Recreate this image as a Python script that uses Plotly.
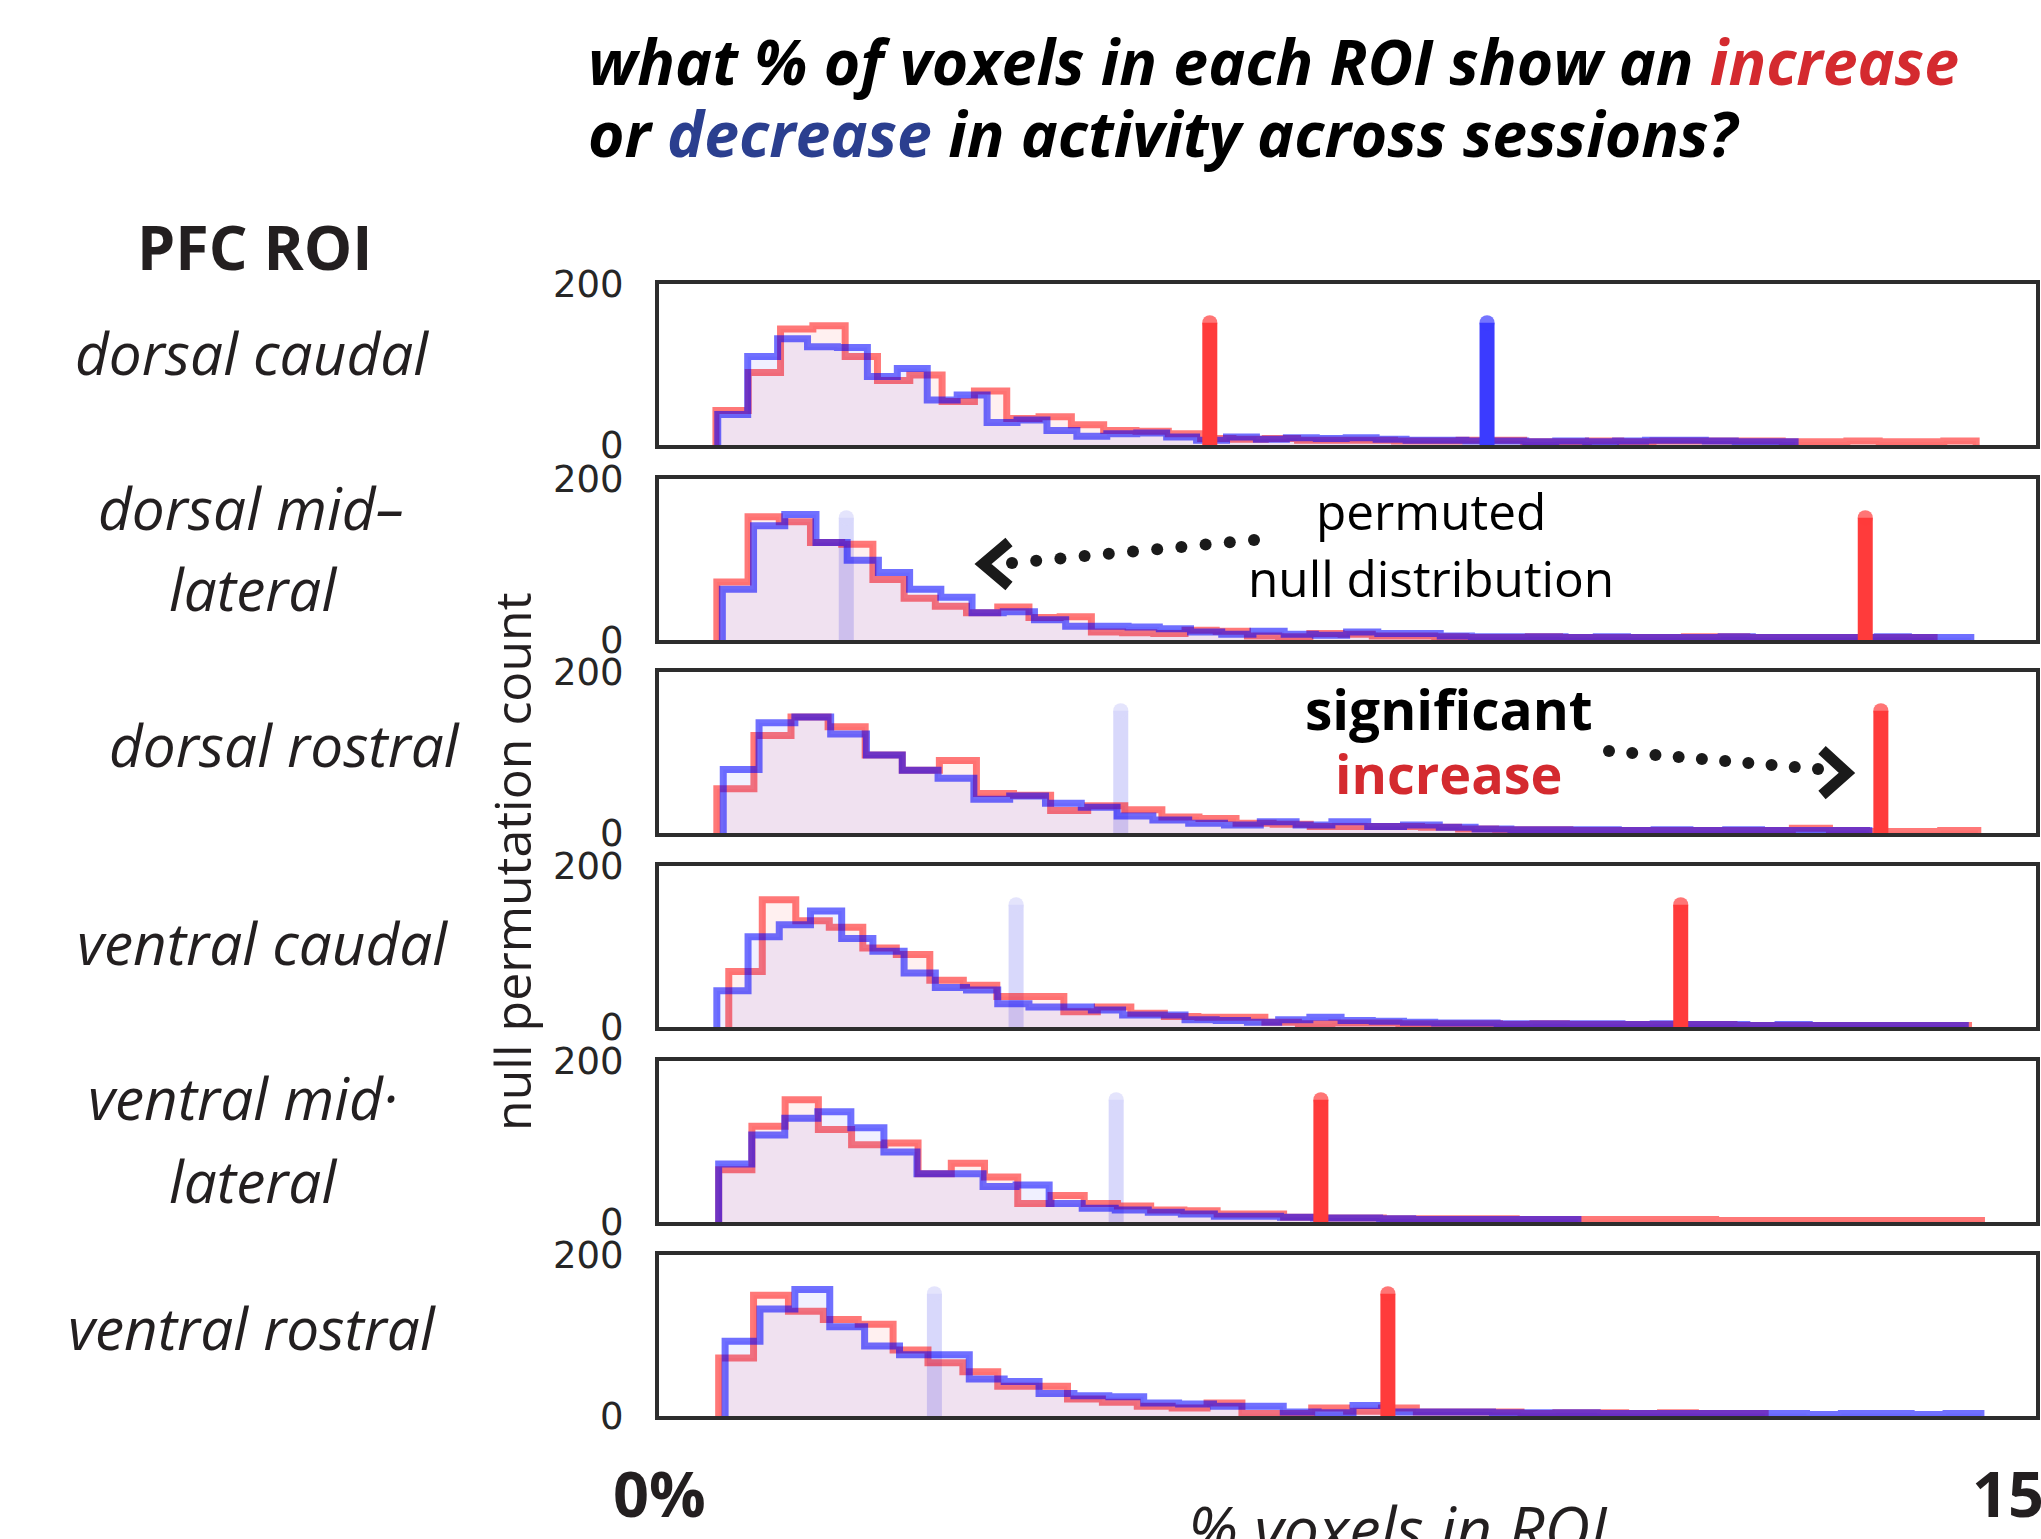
import numpy as np
import plotly.graph_objects as go

W, H = 2041, 1539

# ---------------- data ----------------
rois = ["dorsal caudal", "dorsal mid-lateral", "dorsal rostral",
        "ventral caudal", "ventral mid-lateral", "ventral rostral"]

# observed % of voxels showing an increase / decrease
observed_increase = [6.00, 13.14, 13.31, 11.13, 7.21, 7.94]
observed_decrease = [9.02, 2.04, 5.03, 3.89, 4.98, 3.00]
decrease_significant = [True, False, False, False, False, False]

# permuted null distributions (histograms): first bin edge (%), bin width (%), counts
null_inc_start = [0.62, 0.63, 0.63, 0.76, 0.65, 0.65]
null_inc_width = [0.352, 0.34, 0.404, 0.365, 0.362, 0.38]
null_inc_counts = [
    [43, 90, 144, 148, 110, 80, 87, 54, 67, 33, 35, 25, 18, 17, 14, 8, 7, 8, 6,
     6, 6, 5, 5, 6, 6, 4, 4, 5, 4, 5, 5, 5, 5, 4, 4, 5, 4, 4, 5],
    [72, 153, 147, 121, 119, 75, 52, 42, 34, 41, 28, 29, 10, 9, 8, 12, 11, 5, 4,
     8, 7, 5, 5, 4, 3, 3, 4, 3, 3, 3, 3, 4, 4, 3, 3, 3, 3, 3, 3],
    [55, 121, 144, 132, 97, 78, 90, 49, 47, 28, 34, 29, 20, 18, 12, 11,
     8, 8, 8, 7, 5, 4, 4, 3, 3, 3, 3, 3, 3, 6, 3, 2, 2, 3],
    [69, 158, 132, 124, 98, 90, 58, 52, 38, 38, 19, 25, 17, 13, 12, 12, 6, 4,
     5, 5, 4, 4, 4, 3, 4, 3, 3, 3, 3, 3, 2, 2, 2, 2, 2, 2, 2],
    [65, 119, 152, 115, 96, 98, 60, 73, 56, 23, 33, 23, 20, 15, 14, 10, 10, 6,
     5, 5, 4, 4, 4, 4, 3, 3, 3, 3, 3, 3, 2, 2, 2, 2, 2, 2, 2, 2],
    [72, 150, 130, 120, 114, 82, 66, 55, 37, 37, 21, 17, 12, 10, 16, 3, 3, 10, 6, 10, 5, 5, 5, 3,
     4, 4, 3, 4, 3, 3],
]
null_dec_start = [0.64, 0.69, 0.70, 0.63, 0.65, 0.72]
null_dec_width = [0.326, 0.34, 0.39, 0.34, 0.36, 0.38]
null_dec_counts = [
    [38, 110, 132, 122, 121, 85, 95, 56, 62, 28, 31, 18, 11, 14, 15, 10, 6, 10, 7, 9,
     8, 9, 7, 6, 6, 5, 5, 4, 5, 4, 5, 6, 6, 5, 4, 4],
    [63, 142, 156, 121, 99, 84, 63, 53, 34, 35, 25, 17, 17, 16, 14, 10, 7, 11, 7,
     6, 10, 8, 8, 5, 4, 4, 4, 3, 4, 3, 3, 3, 4, 3, 3, 3, 3, 4, 3, 3],
    [79, 137, 144, 123, 97, 78, 68, 42, 46, 37, 32, 21, 16, 12, 10, 14, 10, 14, 8, 10,
     7, 5, 4, 4, 4, 3, 4, 3, 4, 3, 3, 3],
    [45, 112, 127, 144, 110, 94, 67, 49, 46, 29, 25, 25, 21, 15, 15, 9, 8, 6, 9, 12,
     8, 7, 6, 5, 5, 4, 4, 4, 4, 3, 4, 3, 3, 2, 3, 2, 2, 2, 2, 2],
    [72, 108, 129, 137, 117, 87, 60, 60, 44, 46, 23, 17, 15, 12, 10, 7, 7, 6,
     5, 5, 4, 3, 3, 3, 3, 3],
    [93, 133, 157, 111, 87, 76, 76, 46, 43, 28, 25, 24, 16, 15, 12, 12, 5, 4, 13, 5, 5,
     5, 4, 4, 4, 3, 3, 3, 3, 3, 3, 2, 3, 3, 2, 3],
]

x_range = [0, 15]
y_range = [0, 200]
y_ticks = [0, 200]
x_tick_labels = ["0%", "15%"]
observed_line_height = 152

# ---------------- layout geometry (pixels) ----------------
PANEL_LEFT, PANEL_RIGHT = 659, 2036
PANEL_TOPS = [284, 479, 672, 866, 1061, 1255]
PANEL_H = 161

def px(X):
    return X / W

def py(Y):
    return 1 - Y / H

RED_LINE = "rgba(255,0,0,0.53)"
BLUE_LINE = "rgba(0,0,255,0.56)"
RED_FILL = "rgba(255,0,0,0.06)"
BLUE_FILL = "rgba(0,0,255,0.06)"
SIG_RED = "#ff3b3b"
SIG_BLUE = "#3b3bff"
FAINT_BLUE = "#d8d8fb"
FRAME = "#2d2d2d"

fig = go.Figure()


def step_xy(start, width, counts):
    counts = np.asarray(counts, dtype=float)
    edges = start + width * np.arange(len(counts) + 1)
    x = np.concatenate([[edges[0]], edges[:-1], [edges[-1]], [edges[-1]]])
    y = np.concatenate([[0], counts, [counts[-1]], [0]])
    return x, y


def vline(xv, color, xa, ya, width=15):
    return go.Scatter(x=[xv, xv], y=[0, observed_line_height], mode="lines+markers",
                      line=dict(color=color, width=width),
                      marker=dict(size=[0, width], color=color, line=dict(width=0)),
                      xaxis=xa, yaxis=ya, showlegend=False, hoverinfo="skip")


for i in range(len(rois)):
    xa = "x" if i == 0 else f"x{i+1}"
    ya = "y" if i == 0 else f"y{i+1}"
    if not decrease_significant[i]:
        fig.add_trace(vline(observed_decrease[i], FAINT_BLUE, xa, ya, 15))
    for start, width, counts, lc, fc in [
        (null_inc_start[i], null_inc_width[i], null_inc_counts[i], RED_LINE, RED_FILL),
        (null_dec_start[i], null_dec_width[i], null_dec_counts[i], BLUE_LINE, BLUE_FILL),
    ]:
        hx, hy = step_xy(start, width, counts)
        fig.add_trace(go.Scatter(x=hx, y=hy, mode="lines", line_shape="hv",
                                 line=dict(color=lc, width=7), fill="tozeroy",
                                 fillcolor=fc, xaxis=xa, yaxis=ya,
                                 showlegend=False, hoverinfo="skip"))
    fig.add_trace(vline(observed_increase[i], SIG_RED, xa, ya))
    if decrease_significant[i]:
        fig.add_trace(vline(observed_decrease[i], SIG_BLUE, xa, ya))

layout = dict(width=W, height=H, margin=dict(l=0, r=0, t=0, b=0, pad=0, autoexpand=False),
              paper_bgcolor="white", plot_bgcolor="white", showlegend=False)
for i in range(len(rois)):
    top = PANEL_TOPS[i]
    bot = top + PANEL_H
    xk = "xaxis" if i == 0 else f"xaxis{i+1}"
    yk = "yaxis" if i == 0 else f"yaxis{i+1}"
    layout[xk] = dict(domain=[px(PANEL_LEFT), px(PANEL_RIGHT)], range=x_range,
                      anchor="y" if i == 0 else f"y{i+1}", automargin=False,
                      showline=True, mirror=True, linecolor=FRAME, linewidth=4,
                      showgrid=False, zeroline=False, showticklabels=False, ticks="")
    layout[yk] = dict(domain=[py(bot), py(top)], range=y_range,
                      anchor="x" if i == 0 else f"x{i+1}", automargin=False,
                      showline=True, mirror=True, linecolor=FRAME, linewidth=4,
                      showgrid=False, zeroline=False, ticks="",
                      tickvals=y_ticks, ticktext=[str(v) for v in y_ticks],
                      tickfont=dict(family="DejaVu Sans", size=37, color="#262626"),
                      ticklabelstandoff=24)
fig.update_layout(**layout)

FONT = "Open Sans"
annotations = []


def ann(text, X, Y, size, weight="normal", style="normal", color="#231f20",
        xanchor="center", angle=0):
    annotations.append(dict(text=text, x=px(X), y=py(Y), xref="paper", yref="paper",
                            xanchor=xanchor, yanchor="middle", showarrow=False,
                            textangle=angle,
                            font=dict(family=FONT, size=size, weight=weight,
                                      style=style, color=color)))

RED_TXT = "#d42a2f"
BLUE_TXT = "#2b3f8f"
ann(f'what % of voxels in each ROI show an <span style="color:{RED_TXT}">increase</span>',
    586, 60, 62.5, weight=700, style="italic", color="#000000", xanchor="left")
ann(f'or <span style="color:{BLUE_TXT}">decrease</span> in activity across sessions?',
    586, 132, 62.5, weight=700, style="italic", color="#000000", xanchor="left")

ann("PFC ROI", 255, 246, 61, weight=700)
row_text = [("dorsal caudal", 252, 352), ("dorsal mid–", 251, 507), ("lateral", 253, 588),
            ("dorsal rostral", 284, 744), ("ventral caudal", 262, 942),
            ("ventral mid·", 242, 1097), ("lateral", 253, 1180),
            ("ventral rostral", 252, 1327)]
for t, X, Y in row_text:
    ann(t, X, Y, 58.5, style="italic")

ann("null permutation count", 512, 862, 50, angle=-90)

ann("permuted", 1431, 511, 49.5, color="#000000")
ann("null distribution", 1431, 578, 49.5, color="#000000")
ann("significant", 1449, 708, 55, weight=700, color="#000000")
ann("increase", 1449, 773, 54, weight=700, color=RED_TXT)

ann(x_tick_labels[0], PANEL_LEFT, 1492, 63, weight=700)
ann(x_tick_labels[1], PANEL_RIGHT, 1492, 63, weight=700)
ann("% voxels in ROI", 1398, 1527, 63, style="italic")

# dotted arrows (decorations)
shapes = []
DOT = "#1a1a1a"


def dotted_arrow(p0, p1, n, tip, arm1, arm2):
    for X, Y in zip(np.linspace(p0[0], p1[0], n), np.linspace(p0[1], p1[1], n)):
        shapes.append(dict(type="circle", xref="paper", yref="paper",
                           xsizemode="pixel", ysizemode="pixel",
                           xanchor=px(X), yanchor=py(Y), x0=-6, x1=6, y0=-6, y1=6,
                           fillcolor=DOT, line=dict(width=0)))
    path = (f"M {px(arm1[0])} {py(arm1[1])} L {px(tip[0])} {py(tip[1])} "
            f"L {px(arm2[0])} {py(arm2[1])}")
    shapes.append(dict(type="path", xref="paper", yref="paper", path=path,
                       line=dict(color=DOT, width=11)))

dotted_arrow((1254, 540), (1012, 563), 11, (983, 564), (1009, 542), (1009, 586))
dotted_arrow((1609, 751), (1818, 769), 10, (1847, 773), (1822, 750), (1822, 795))

fig.update_layout(annotations=annotations, shapes=shapes)
fig.write_html("out.html")
